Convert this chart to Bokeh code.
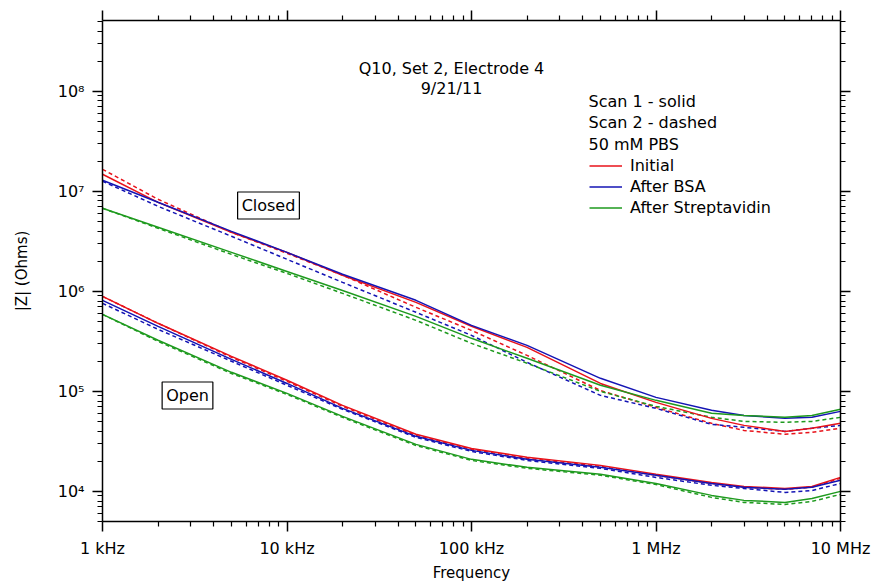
import math
from bokeh.plotting import figure
from bokeh.models import FixedTicker, LogAxis, Label, Legend, LegendItem, Range1d, CustomJSTickFormatter
from bokeh.embed import file_html
from bokeh.resources import INLINE

# ---------------- data ----------------
freq_hz = [1e3, 2e3, 5e3, 1e4, 2e4, 5e4, 1e5, 2e5, 5e5, 1e6, 2e6, 3e6, 5e6, 7e6, 1e7]

# Closed electrode
closed_initial_scan1 = [1.48e7, 7.76e6, 3.89e6, 2.45e6, 1.45e6, 7.76e5, 4.47e5, 2.75e5, 1.20e5, 7.76e4, 5.37e4, 4.57e4, 3.98e4, 4.27e4, 4.79e4]
closed_initial_scan2 = [1.66e7, 8.32e6, 3.89e6, 2.40e6, 1.45e6, 6.92e5, 4.07e5, 2.29e5, 1.02e5, 6.92e4, 4.79e4, 4.07e4, 3.72e4, 3.89e4, 4.27e4]
closed_bsa_scan1 = [1.29e7, 7.76e6, 3.98e6, 2.45e6, 1.48e6, 8.13e5, 4.57e5, 2.88e5, 1.35e5, 8.71e4, 6.46e4, 5.75e4, 5.37e4, 5.50e4, 6.31e4]
closed_bsa_scan2 = [1.26e7, 7.08e6, 3.55e6, 2.09e6, 1.23e6, 6.17e5, 3.63e5, 1.95e5, 9.12e4, 6.76e4, 4.68e4, 4.37e4, 3.98e4, 4.27e4, 4.57e4]
closed_strep_scan1 = [6.76e6, 4.37e6, 2.45e6, 1.58e6, 1.02e6, 5.62e5, 3.39e5, 2.14e5, 1.15e5, 8.13e4, 6.03e4, 5.75e4, 5.50e4, 5.75e4, 6.61e4]
closed_strep_scan2 = [6.76e6, 4.27e6, 2.34e6, 1.51e6, 9.55e5, 5.13e5, 3.02e5, 1.91e5, 1.00e5, 7.08e4, 5.50e4, 5.01e4, 4.90e4, 5.01e4, 5.50e4]

# Open electrode
open_initial_scan1 = [8.91e5, 4.79e5, 2.24e5, 1.29e5, 7.24e4, 3.72e4, 2.69e4, 2.19e4, 1.82e4, 1.48e4, 1.23e4, 1.12e4, 1.07e4, 1.12e4, 1.38e4]
open_initial_scan2 = [8.91e5, 4.79e5, 2.19e5, 1.26e5, 7.08e4, 3.63e4, 2.63e4, 2.14e4, 1.78e4, 1.45e4, 1.20e4, 1.10e4, 1.05e4, 1.10e4, 1.35e4]
open_bsa_scan1 = [8.13e5, 4.47e5, 2.09e5, 1.20e5, 6.76e4, 3.55e4, 2.57e4, 2.09e4, 1.74e4, 1.45e4, 1.20e4, 1.10e4, 1.05e4, 1.10e4, 1.29e4]
open_bsa_scan2 = [7.59e5, 4.17e5, 2.00e5, 1.15e5, 6.61e4, 3.47e4, 2.51e4, 2.04e4, 1.70e4, 1.38e4, 1.15e4, 1.07e4, 9.77e3, 1.02e4, 1.20e4]
open_strep_scan1 = [5.89e5, 3.24e5, 1.55e5, 9.55e4, 5.62e4, 2.95e4, 2.09e4, 1.74e4, 1.48e4, 1.20e4, 9.12e3, 8.13e3, 7.76e3, 8.51e3, 1.00e4]
open_strep_scan2 = [5.89e5, 3.16e5, 1.51e5, 9.33e4, 5.50e4, 2.88e4, 2.04e4, 1.70e4, 1.45e4, 1.17e4, 8.71e3, 7.76e3, 7.41e3, 7.94e3, 9.33e3]

x_tick_values = [1e3, 1e4, 1e5, 1e6, 1e7]
x_tick_labels = ["1 kHz", "10 kHz", "100 kHz", "1 MHz", "10 MHz"]
y_tick_values = [1e4, 1e5, 1e6, 1e7, 1e8]
y_tick_labels = ["10\u2074", "10\u2075", "10\u2076", "10\u2077", "10\u2078"]

treatments = ["Initial", "After BSA", "After Streptavidin"]
colors = ["#e8121a", "#1414b4", "#1e9a1e"]

# ---------------- figure ----------------
X0, X1 = 1e3, 1e7
Y0, Y1 = 5.0e3, 5.1e8
FONT = "DejaVu Sans"
FL, FT, FW, FH = 102, 20, 738, 501   # frame placement in page pixels

p = figure(frame_width=FW, frame_height=FH,
           x_axis_type="log", y_axis_type="log",
           x_range=Range1d(X0, X1), y_range=Range1d(Y0, Y1),
           output_backend="svg", toolbar_location=None,
           min_border_left=FL, min_border_right=871 - FL - FW,
           min_border_top=FT, min_border_bottom=581 - FT - FH)
p.grid.visible = False
p.outline_line_color = None
p.background_fill_color = "white"
p.border_fill_color = "white"

bottom_axis = p.below[0]
left_axis = p.left[0]


def minor_of(majors, lo, hi):
    out = []
    for m in majors + [majors[0] / 10]:
        for k in range(2, 10):
            v = m * k
            if lo <= v <= hi:
                out.append(v)
    return sorted(out)


def label_formatter(vals, labels):
    return CustomJSTickFormatter(args=dict(vals=vals, labels=labels), code="""
        for (let i = 0; i < vals.length; i++) {
            if (Math.abs(Math.log10(vals[i]) - Math.log10(tick)) < 1e-6) { return labels[i]; }
        }
        return " ";
    """)


x_ticker = FixedTicker(ticks=x_tick_values, minor_ticks=minor_of(x_tick_values, X0, X1))
y_ticker = FixedTicker(ticks=y_tick_values, minor_ticks=minor_of(y_tick_values, Y0, Y1))

top_axis = LogAxis()
right_axis = LogAxis()
p.add_layout(top_axis, "above")
p.add_layout(right_axis, "right")


def style(ax, ticker, vals, labels):
    ax.ticker = ticker
    ax.major_tick_out = 10
    ax.major_tick_in = 0
    ax.minor_tick_out = 5
    ax.minor_tick_in = 0
    ax.axis_line_width = 1.5
    ax.major_tick_line_width = 1.5
    ax.minor_tick_line_width = 1.2
    ax.axis_line_color = "black"
    ax.major_tick_line_color = "black"
    ax.minor_tick_line_color = "black"
    if labels is None:
        ax.formatter = label_formatter(vals, [" "] * len(vals))
        ax.major_label_text_font_size = "1px"
        ax.major_label_text_color = None
        ax.major_label_standoff = 0
    else:
        ax.formatter = label_formatter(vals, labels)
        ax.major_label_text_font = FONT
        ax.major_label_text_font_size = "16px"
        ax.major_label_text_color = "black"


style(bottom_axis, x_ticker, x_tick_values, x_tick_labels)
style(left_axis, y_ticker, y_tick_values, y_tick_labels)
style(top_axis, x_ticker, x_tick_values, None)
style(right_axis, y_ticker, y_tick_values, None)
bottom_axis.major_label_standoff = 7
left_axis.major_label_standoff = 8

left_axis.axis_label = "|Z| (Ohms)"
left_axis.axis_label_text_font = FONT
left_axis.axis_label_text_font_size = "15px"
left_axis.axis_label_text_font_style = "normal"
left_axis.axis_label_text_color = "black"
left_axis.axis_label_standoff = 24

bottom_axis.axis_label = "Frequency"
bottom_axis.axis_label_text_font = FONT
bottom_axis.axis_label_text_font_size = "15px"
bottom_axis.axis_label_text_font_style = "normal"
bottom_axis.axis_label_text_color = "black"
bottom_axis.axis_label_standoff = 3

# ---------------- curves ----------------
series = [
    (closed_initial_scan2, 0, True), (closed_bsa_scan2, 1, True), (closed_strep_scan2, 2, True),
    (open_initial_scan2, 0, True), (open_bsa_scan2, 1, True), (open_strep_scan2, 2, True),
    (closed_initial_scan1, 0, False), (closed_bsa_scan1, 1, False), (closed_strep_scan1, 2, False),
    (open_initial_scan1, 0, False), (open_bsa_scan1, 1, False), (open_strep_scan1, 2, False),
]
legend_renderers = {}
for vals, ci, dashed in series:
    r = p.line(freq_hz, vals, line_color=colors[ci], line_width=1.5,
               line_dash="4 3" if dashed else "solid")
    if not dashed and ci not in legend_renderers:
        legend_renderers[ci] = r

legend = Legend(items=[LegendItem(label=treatments[i], renderers=[legend_renderers[i]]) for i in range(3)],
                location=(589 - FL, FH - (156 - FT) - 61), orientation="vertical",
                glyph_width=33, glyph_height=19, label_height=19, label_standoff=8,
                spacing=2, padding=0, margin=0,
                label_text_font=FONT, label_text_font_size="16px", label_text_color="black",
                border_line_color=None, background_fill_alpha=0.0)
p.add_layout(legend)


# ---------------- annotations (positions from the frame geometry) ----------------
def dx(page_x):
    return 10 ** (math.log10(X0) + (page_x - FL) / FW * (math.log10(X1) - math.log10(X0)))


def dy(page_y):
    return 10 ** (math.log10(Y1) - (page_y - FT) / FH * (math.log10(Y1) - math.log10(Y0)))


def add_text(x, y, text, align="left", baseline="middle", size="16px", box=False):
    kw = {}
    if box:
        kw = dict(border_line_color="black", border_line_width=1.2,
                  background_fill_color="white", padding=4)
    p.add_layout(Label(x=x, y=y, text=text, text_align=align, text_baseline=baseline,
                       text_font=FONT, text_font_size=size, text_color="black", **kw))


add_text(dx(451), dy(68), "Q10, Set 2, Electrode 4", align="center")
add_text(dx(451), dy(88), "9/21/11", align="center")
add_text(dx(588), dy(101), "Scan 1 - solid")
add_text(dx(588), dy(122), "Scan 2 - dashed")
add_text(dx(588), dy(144), "50 mM PBS")
add_text(dx(268), dy(205), "Closed", align="center", box=True)
add_text(dx(187), dy(395), "Open", align="center", box=True)

open("out.html", "w").write(file_html(p, INLINE))
